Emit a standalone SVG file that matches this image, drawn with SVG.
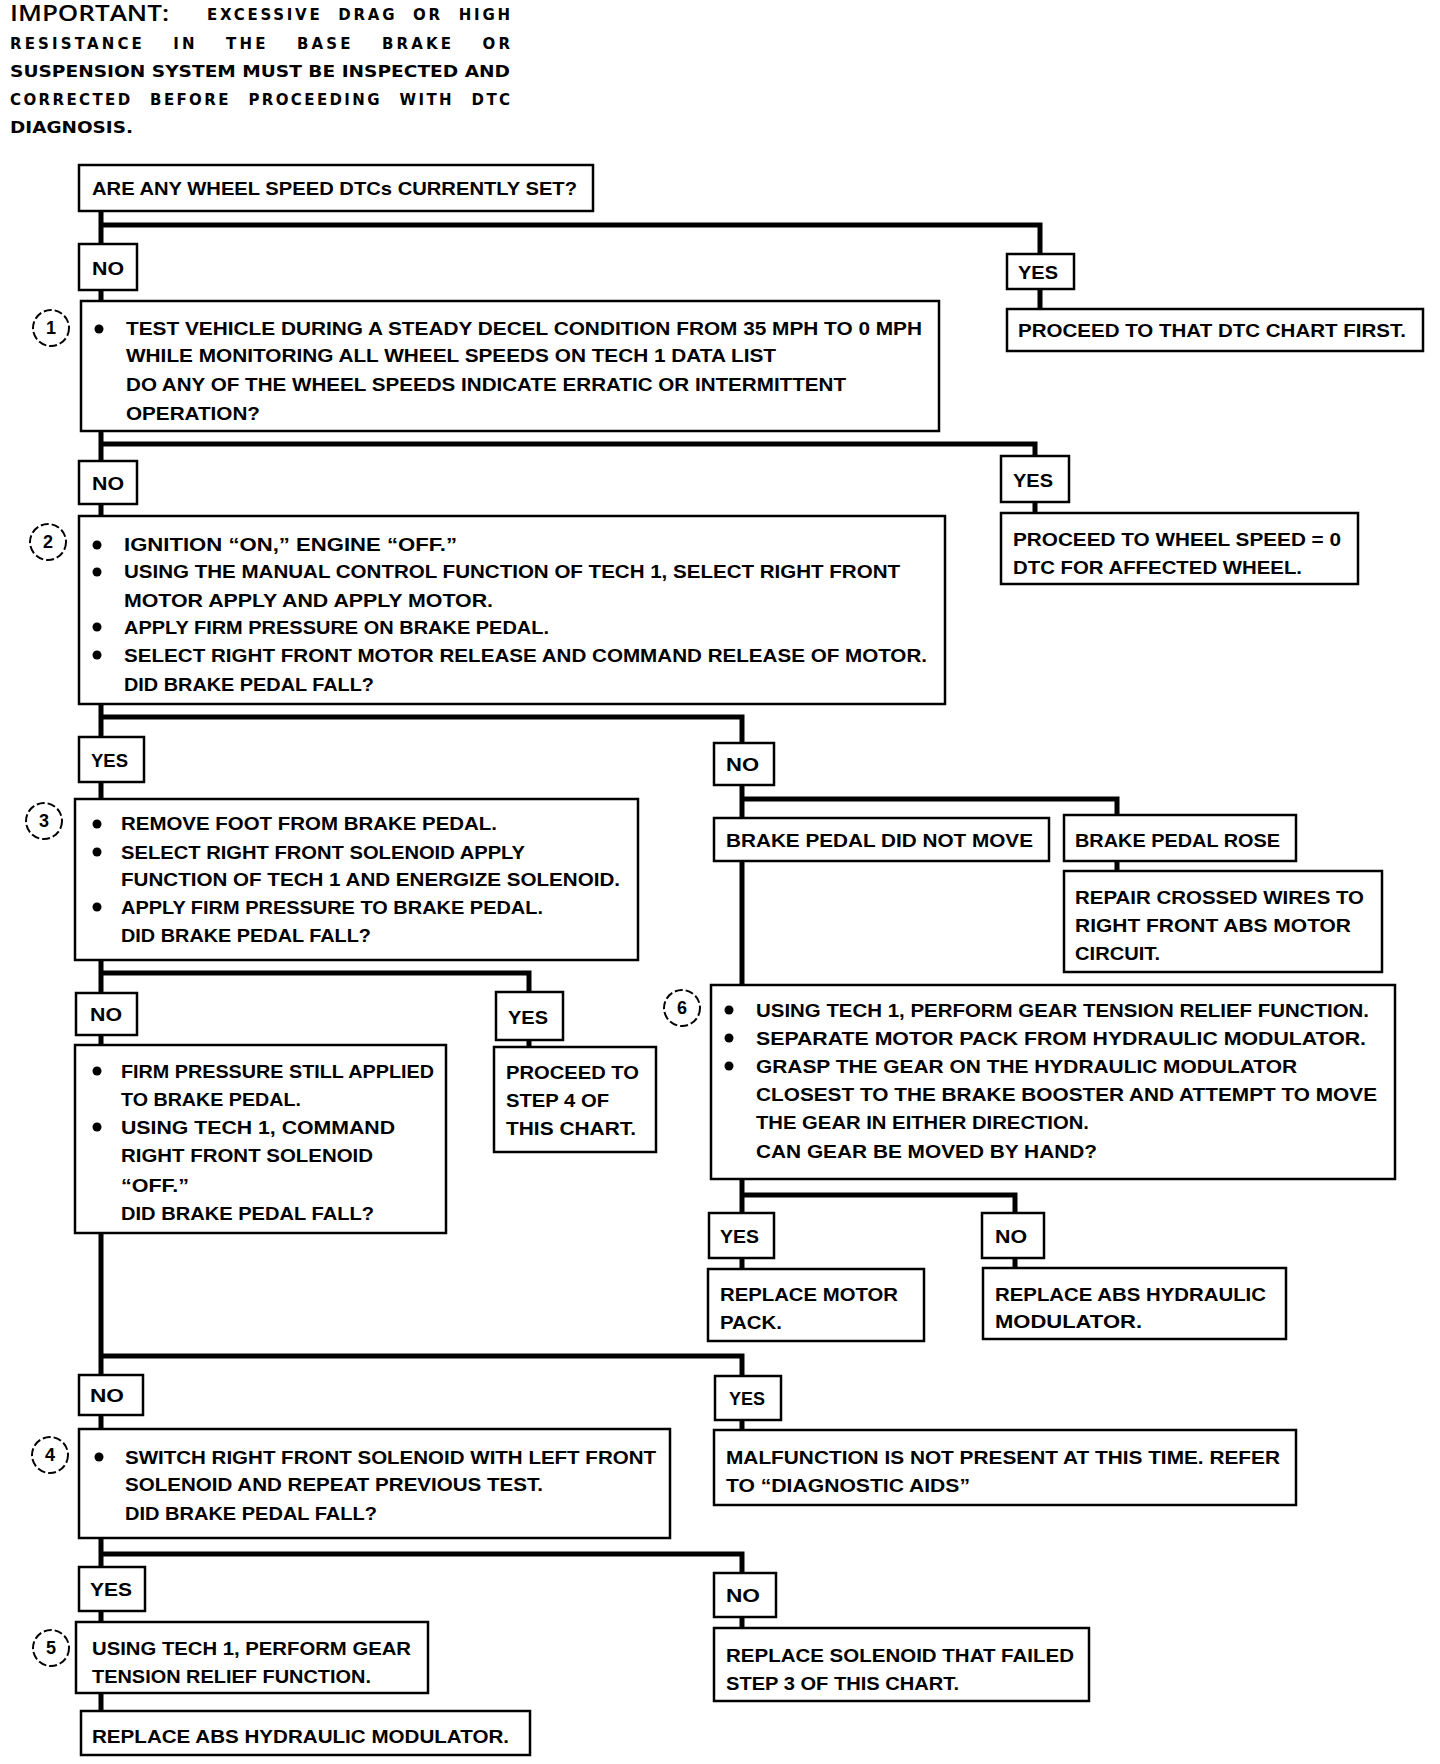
<svg xmlns="http://www.w3.org/2000/svg" width="1440" height="1764" viewBox="0 0 1440 1764">
<style>
text{font-family:"Liberation Sans",Arial,sans-serif;font-weight:bold;font-size:19px;fill:#000}
.hd{font-family:"DejaVu Sans","Liberation Sans",sans-serif;font-size:15px}
.big{font-family:"Open Sans","Liberation Sans",sans-serif;font-size:21px;font-weight:600}
.box{fill:#fff;stroke:#000;stroke-width:2.5}
.lbl{fill:#fff;stroke:#000;stroke-width:2.5}
.circ{fill:none;stroke:#000;stroke-width:2;stroke-dasharray:8 3}
.num{font-size:18px}
.con{fill:none;stroke:#000;stroke-width:5;stroke-linejoin:miter}
</style>
<defs>
<circle id="dot" r="4.5" fill="#000"/>
</defs>
<rect width="1440" height="1764" fill="#fff"/>
<g id="note">
<text class="big" x="10" y="21" textLength="159" lengthAdjust="spacingAndGlyphs">IMPORTANT:</text>
<text class="hd" x="207" y="20" word-spacing="8" textLength="303" lengthAdjust="spacing">EXCESSIVE DRAG OR HIGH</text>
<text class="hd" x="10" y="49" word-spacing="20" textLength="500" lengthAdjust="spacing">RESISTANCE IN THE BASE BRAKE OR</text>
<text class="hd" x="10" y="77" textLength="500" lengthAdjust="spacingAndGlyphs">SUSPENSION SYSTEM MUST BE INSPECTED AND</text>
<text class="hd" x="10" y="105" word-spacing="10" textLength="500" lengthAdjust="spacing">CORRECTED BEFORE PROCEEDING WITH DTC</text>
<text class="hd" x="10" y="133" textLength="123" lengthAdjust="spacingAndGlyphs">DIAGNOSIS.</text>
</g>
<g id="connectors">
<path class="con" d="M101 211V244M101 225H1040V254"/>
<path class="con" d="M101 290V301M1040 289V309"/>
<path class="con" d="M101 431V461M101 444H1035V456"/>
<path class="con" d="M1035 502V513M101 504V516"/>
<path class="con" d="M101 704V737M101 717H742V743"/>
<path class="con" d="M101 782V799"/>
<path class="con" d="M742 785V818M742 799H1117V815"/>
<path class="con" d="M1117 861V871M742 861V985"/>
<path class="con" d="M101 960V993M101 973H529V992"/>
<path class="con" d="M529 1040V1047M101 1035V1045"/>
<path class="con" d="M742 1179V1213M742 1195H1015V1213"/>
<path class="con" d="M742 1258V1269M1015 1258V1268"/>
<path class="con" d="M101 1233V1375M101 1356H742V1376"/>
<path class="con" d="M742 1420V1430M101 1415V1429"/>
<path class="con" d="M101 1538V1567M101 1554H742V1573"/>
<path class="con" d="M101 1611V1622M742 1617V1628"/>
<path class="con" d="M101 1693V1711"/>
</g>
<g id="q0">
<rect class="box" x="79" y="165" width="514" height="46"/>
<text x="92" y="195" textLength="485" lengthAdjust="spacingAndGlyphs">ARE ANY WHEEL SPEED DTCs CURRENTLY SET?</text>
</g>
<g id="q0-no"><rect class="lbl" x="79" y="244" width="58" height="46"/><text x="92" y="275" textLength="32" lengthAdjust="spacingAndGlyphs">NO</text></g>
<g id="q0-yes"><rect class="lbl" x="1007" y="254" width="67" height="35"/><text x="1018" y="279" textLength="40" lengthAdjust="spacingAndGlyphs">YES</text></g>
<g id="r-dtc">
<rect class="box" x="1007" y="309" width="416" height="42"/>
<text x="1018" y="337" textLength="388" lengthAdjust="spacingAndGlyphs">PROCEED TO THAT DTC CHART FIRST.</text>
</g>
<g id="step1">
<circle class="circ" cx="51" cy="328" r="18"/>
<text class="num" x="51" y="334" text-anchor="middle">1</text>
<rect class="box" x="81" y="301" width="858" height="130"/>
<use href="#dot" x="99" y="329"/>
<text x="126" y="335" textLength="796" lengthAdjust="spacingAndGlyphs">TEST VEHICLE DURING A STEADY DECEL CONDITION FROM 35 MPH TO 0 MPH</text>
<text x="126" y="362" textLength="650" lengthAdjust="spacingAndGlyphs">WHILE MONITORING ALL WHEEL SPEEDS ON TECH 1 DATA LIST</text>
<text x="126" y="391" textLength="720" lengthAdjust="spacingAndGlyphs">DO ANY OF THE WHEEL SPEEDS INDICATE ERRATIC OR INTERMITTENT</text>
<text x="126" y="420" textLength="134" lengthAdjust="spacingAndGlyphs">OPERATION?</text>
</g>
<g id="s1-no"><rect class="lbl" x="79" y="461" width="58" height="43"/><text x="92" y="490" textLength="32" lengthAdjust="spacingAndGlyphs">NO</text></g>
<g id="s1-yes"><rect class="lbl" x="1001" y="456" width="68" height="46"/><text x="1013" y="487" textLength="40" lengthAdjust="spacingAndGlyphs">YES</text></g>
<g id="r-ws">
<rect class="box" x="1001" y="513" width="357" height="71"/>
<text x="1013" y="546" textLength="328" lengthAdjust="spacingAndGlyphs">PROCEED TO WHEEL SPEED  = 0</text>
<text x="1013" y="574" textLength="289" lengthAdjust="spacingAndGlyphs">DTC FOR AFFECTED WHEEL.</text>
</g>
<g id="step2">
<circle class="circ" cx="48" cy="542" r="18"/>
<text class="num" x="48" y="548" text-anchor="middle">2</text>
<rect class="box" x="79" y="516" width="866" height="188"/>
<use href="#dot" x="97" y="545"/>
<text x="124" y="551" textLength="333" lengthAdjust="spacingAndGlyphs">IGNITION “ON,” ENGINE “OFF.”</text>
<use href="#dot" x="97" y="572"/>
<text x="124" y="578" textLength="776" lengthAdjust="spacingAndGlyphs">USING THE MANUAL CONTROL FUNCTION OF TECH 1, SELECT RIGHT FRONT</text>
<text x="124" y="607" textLength="369" lengthAdjust="spacingAndGlyphs">MOTOR APPLY AND APPLY MOTOR.</text>
<use href="#dot" x="97" y="627"/>
<text x="124" y="634" textLength="425" lengthAdjust="spacingAndGlyphs">APPLY FIRM PRESSURE ON BRAKE PEDAL.</text>
<use href="#dot" x="97" y="655"/>
<text x="124" y="662" textLength="803" lengthAdjust="spacingAndGlyphs">SELECT RIGHT FRONT MOTOR RELEASE AND COMMAND RELEASE OF MOTOR.</text>
<text x="124" y="691" textLength="250" lengthAdjust="spacingAndGlyphs">DID BRAKE PEDAL FALL?</text>
</g>
<g id="s2-yes"><rect class="lbl" x="79" y="737" width="65" height="45"/><text x="91" y="767" textLength="37" lengthAdjust="spacingAndGlyphs">YES</text></g>
<g id="s2-no"><rect class="lbl" x="714" y="743" width="60" height="42"/><text x="726" y="771" textLength="33" lengthAdjust="spacingAndGlyphs">NO</text></g>
<g id="step3">
<circle class="circ" cx="44" cy="821" r="18"/>
<text class="num" x="44" y="827" text-anchor="middle">3</text>
<rect class="box" x="75" y="799" width="563" height="161"/>
<use href="#dot" x="97" y="824"/>
<text x="121" y="830" textLength="376" lengthAdjust="spacingAndGlyphs">REMOVE FOOT FROM BRAKE PEDAL.</text>
<use href="#dot" x="97" y="852"/>
<text x="121" y="859" textLength="404" lengthAdjust="spacingAndGlyphs">SELECT RIGHT FRONT SOLENOID APPLY</text>
<text x="121" y="886" textLength="499" lengthAdjust="spacingAndGlyphs">FUNCTION OF TECH 1 AND ENERGIZE SOLENOID.</text>
<use href="#dot" x="97" y="907"/>
<text x="121" y="914" textLength="422" lengthAdjust="spacingAndGlyphs">APPLY FIRM PRESSURE TO BRAKE PEDAL.</text>
<text x="121" y="942" textLength="250" lengthAdjust="spacingAndGlyphs">DID BRAKE PEDAL FALL?</text>
</g>
<g id="r-notmove">
<rect class="box" x="714" y="818" width="335" height="43"/>
<text x="726" y="847" textLength="307" lengthAdjust="spacingAndGlyphs">BRAKE PEDAL DID NOT MOVE</text>
</g>
<g id="r-rose">
<rect class="box" x="1064" y="815" width="232" height="46"/>
<text x="1075" y="847" textLength="205" lengthAdjust="spacingAndGlyphs">BRAKE PEDAL ROSE</text>
</g>
<g id="r-repair">
<rect class="box" x="1064" y="871" width="318" height="101"/>
<text x="1075" y="904" textLength="289" lengthAdjust="spacingAndGlyphs">REPAIR CROSSED WIRES TO</text>
<text x="1075" y="932" textLength="276" lengthAdjust="spacingAndGlyphs">RIGHT FRONT ABS MOTOR</text>
<text x="1075" y="960" textLength="85" lengthAdjust="spacingAndGlyphs">CIRCUIT.</text>
</g>
<g id="s3-no"><rect class="lbl" x="76" y="993" width="61" height="42"/><text x="90" y="1021" textLength="32" lengthAdjust="spacingAndGlyphs">NO</text></g>
<g id="s3-yes"><rect class="lbl" x="496" y="992" width="67" height="48"/><text x="508" y="1024" textLength="40" lengthAdjust="spacingAndGlyphs">YES</text></g>
<g id="r-step4">
<rect class="box" x="494" y="1047" width="162" height="105"/>
<text x="506" y="1079" textLength="133" lengthAdjust="spacingAndGlyphs">PROCEED TO</text>
<text x="506" y="1107" textLength="103" lengthAdjust="spacingAndGlyphs">STEP 4 OF</text>
<text x="506" y="1135" textLength="130" lengthAdjust="spacingAndGlyphs">THIS CHART.</text>
</g>
<g id="s3-noresult">
<rect class="box" x="75" y="1045" width="371" height="188"/>
<use href="#dot" x="97" y="1071"/>
<text x="121" y="1078" textLength="313" lengthAdjust="spacingAndGlyphs">FIRM PRESSURE STILL APPLIED</text>
<text x="121" y="1106" textLength="180" lengthAdjust="spacingAndGlyphs">TO BRAKE PEDAL.</text>
<use href="#dot" x="97" y="1127"/>
<text x="121" y="1134" textLength="274" lengthAdjust="spacingAndGlyphs">USING TECH 1, COMMAND</text>
<text x="121" y="1162" textLength="252" lengthAdjust="spacingAndGlyphs">RIGHT FRONT SOLENOID</text>
<text x="121" y="1192" textLength="68" lengthAdjust="spacingAndGlyphs">“OFF.”</text>
<text x="121" y="1220" textLength="253" lengthAdjust="spacingAndGlyphs">DID BRAKE PEDAL FALL?</text>
</g>
<g id="step6">
<circle class="circ" cx="682" cy="1008" r="18"/>
<text class="num" x="682" y="1014" text-anchor="middle">6</text>
<rect class="box" x="711" y="985" width="684" height="194"/>
<use href="#dot" x="729" y="1010"/>
<text x="756" y="1017" textLength="613" lengthAdjust="spacingAndGlyphs">USING TECH 1, PERFORM GEAR TENSION RELIEF FUNCTION.</text>
<use href="#dot" x="729" y="1038"/>
<text x="756" y="1045" textLength="610" lengthAdjust="spacingAndGlyphs">SEPARATE MOTOR PACK FROM HYDRAULIC MODULATOR.</text>
<use href="#dot" x="729" y="1066"/>
<text x="756" y="1073" textLength="541" lengthAdjust="spacingAndGlyphs">GRASP THE GEAR ON THE HYDRAULIC MODULATOR</text>
<text x="756" y="1101" textLength="621" lengthAdjust="spacingAndGlyphs">CLOSEST TO THE BRAKE BOOSTER AND ATTEMPT TO MOVE</text>
<text x="756" y="1129" textLength="333" lengthAdjust="spacingAndGlyphs">THE GEAR IN EITHER DIRECTION.</text>
<text x="756" y="1158" textLength="341" lengthAdjust="spacingAndGlyphs">CAN GEAR BE MOVED BY HAND?</text>
</g>
<g id="s6-yes"><rect class="lbl" x="709" y="1213" width="65" height="45"/><text x="720" y="1243" textLength="39" lengthAdjust="spacingAndGlyphs">YES</text></g>
<g id="s6-no"><rect class="lbl" x="982" y="1213" width="62" height="45"/><text x="995" y="1243" textLength="32" lengthAdjust="spacingAndGlyphs">NO</text></g>
<g id="r-motor">
<rect class="box" x="708" y="1269" width="216" height="72"/>
<text x="720" y="1301" textLength="178" lengthAdjust="spacingAndGlyphs">REPLACE MOTOR</text>
<text x="720" y="1329" textLength="62" lengthAdjust="spacingAndGlyphs">PACK.</text>
</g>
<g id="r-modulator">
<rect class="box" x="983" y="1268" width="303" height="71"/>
<text x="995" y="1301" textLength="271" lengthAdjust="spacingAndGlyphs">REPLACE ABS HYDRAULIC</text>
<text x="995" y="1328" textLength="147" lengthAdjust="spacingAndGlyphs">MODULATOR.</text>
</g>
<g id="s3b-no"><rect class="lbl" x="79" y="1375" width="64" height="40"/><text x="90" y="1402" textLength="34" lengthAdjust="spacingAndGlyphs">NO</text></g>
<g id="s3b-yes"><rect class="lbl" x="715" y="1376" width="66" height="44"/><text x="729" y="1405" textLength="36" lengthAdjust="spacingAndGlyphs">YES</text></g>
<g id="r-malf">
<rect class="box" x="714" y="1430" width="582" height="75"/>
<text x="726" y="1464" textLength="554" lengthAdjust="spacingAndGlyphs">MALFUNCTION IS NOT PRESENT AT THIS TIME.  REFER</text>
<text x="726" y="1492" textLength="244" lengthAdjust="spacingAndGlyphs">TO “DIAGNOSTIC AIDS”</text>
</g>
<g id="step4">
<circle class="circ" cx="50" cy="1455" r="18"/>
<text class="num" x="50" y="1461" text-anchor="middle">4</text>
<rect class="box" x="79" y="1429" width="591" height="109"/>
<use href="#dot" x="99" y="1457"/>
<text x="125" y="1464" textLength="531" lengthAdjust="spacingAndGlyphs">SWITCH RIGHT FRONT SOLENOID WITH LEFT FRONT</text>
<text x="125" y="1491" textLength="418" lengthAdjust="spacingAndGlyphs">SOLENOID AND REPEAT PREVIOUS TEST.</text>
<text x="125" y="1520" textLength="252" lengthAdjust="spacingAndGlyphs">DID BRAKE PEDAL FALL?</text>
</g>
<g id="s4-yes"><rect class="lbl" x="79" y="1567" width="66" height="44"/><text x="90" y="1596" textLength="42" lengthAdjust="spacingAndGlyphs">YES</text></g>
<g id="s4-no"><rect class="lbl" x="714" y="1573" width="62" height="44"/><text x="726" y="1602" textLength="34" lengthAdjust="spacingAndGlyphs">NO</text></g>
<g id="r-solenoid">
<rect class="box" x="714" y="1628" width="375" height="73"/>
<text x="726" y="1662" textLength="348" lengthAdjust="spacingAndGlyphs">REPLACE SOLENOID THAT FAILED</text>
<text x="726" y="1690" textLength="233" lengthAdjust="spacingAndGlyphs">STEP 3 OF THIS CHART.</text>
</g>
<g id="step5">
<circle class="circ" cx="51" cy="1648" r="18"/>
<text class="num" x="51" y="1654" text-anchor="middle">5</text>
<rect class="box" x="76" y="1622" width="352" height="71"/>
<text x="92" y="1655" textLength="319" lengthAdjust="spacingAndGlyphs">USING TECH 1, PERFORM GEAR</text>
<text x="92" y="1683" textLength="279" lengthAdjust="spacingAndGlyphs">TENSION RELIEF FUNCTION.</text>
</g>
<g id="r-final">
<rect class="box" x="81" y="1711" width="449" height="44"/>
<text x="92" y="1743" textLength="417" lengthAdjust="spacingAndGlyphs">REPLACE ABS HYDRAULIC MODULATOR.</text>
</g>
</svg>
